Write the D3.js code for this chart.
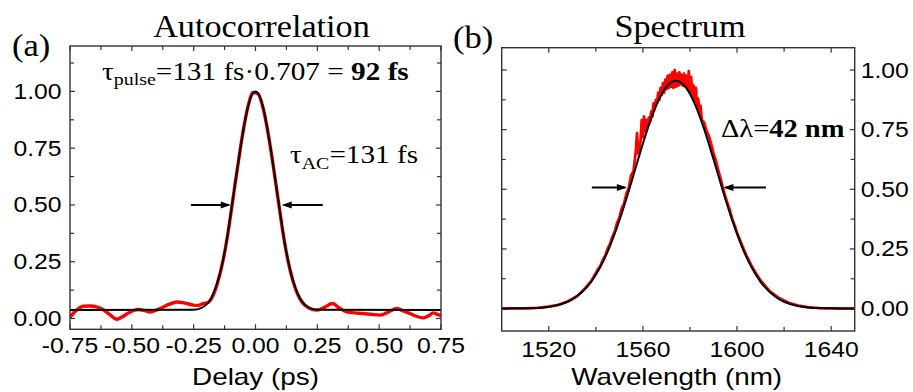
<!DOCTYPE html>
<html>
<head>
<meta charset="utf-8">
<script src="https://cdn.jsdelivr.net/npm/d3@7"></script>
<style>
html,body{margin:0;padding:0;background:#fff;}
svg{display:block;}
</style>
</head>
<body>
<svg id="chart" width="913" height="392"></svg>
<script>
// ---------- DATA ----------
const acDelay = [-0.75,-0.743,-0.72,-0.696,-0.67,-0.642,-0.617,-0.59,-0.561,-0.535,-0.507,-0.474,-0.45,-0.427,-0.386,-0.35,-0.319,-0.285,-0.251,-0.23,-0.211,
  -0.19,-0.17,-0.15,-0.13,-0.11,-0.09,-0.07,-0.05,-0.03,-0.01,
  0.01,0.03,0.05,0.07,0.09,0.11,0.13,0.15,0.17,0.19,0.21,0.23,0.25,
  0.28,0.311,0.34,0.369,0.40,0.436,0.47,0.504,0.54,0.571,0.60,0.625,0.65,0.679,0.70,0.719,0.735,0.75];
const acSignal = [0.005,0.015,0.040,0.054,0.055,0.051,0.040,0.018,-0.003,0.010,0.029,0.040,0.036,0.029,0.044,0.062,0.073,0.068,0.059,0.058,0.066,
  0.072,0.105,0.170,0.262,0.385,0.535,0.685,0.825,0.935,0.995,
  0.990,0.930,0.822,0.685,0.535,0.385,0.262,0.170,0.108,0.070,0.050,0.040,0.037,
  0.050,0.066,0.045,0.029,0.025,0.022,0.018,0.015,0.030,0.044,0.032,0.022,0.010,0.003,0.012,0.025,0.018,0.012];
const acFitDelay = [-0.75,-0.25,-0.22,-0.20,-0.18,-0.16,-0.14,-0.12,-0.10,-0.08,-0.06,-0.04,-0.02,0,0.02,0.04,0.06,0.08,0.10,0.12,0.14,0.16,0.18,0.20,0.22,0.25,0.75];
const acFit = [0.038,0.039,0.046,0.060,0.088,0.140,0.215,0.320,0.462,0.612,0.757,0.884,0.970,1.000,0.970,0.884,0.757,0.612,0.462,0.320,0.215,0.140,0.088,0.060,0.046,0.039,0.038];

const specWl = [1500,1505,1510,1515,1520,1524,1528,1532,1535,1538,
  1540,1541,1542,1543,1544,1545,1546,1547,1548,1549,1550,1551,1552,1553,1554,1555,1556,1557,1557.5,1558,1559,1559.5,1560,1560.5,1561,1561.5,
  1562,1562.5,1563,1563.5,1564,1564.5,1565,1565.5,1566,1566.5,1567,1567.5,1568,1568.5,1569,1569.5,1570,1570.5,1571,1571.5,
  1572,1572.5,1573,1573.5,1574,1574.5,1575,1575.5,1576,1576.5,1577,1577.5,1578,1578.5,1579,1579.5,1580,1580.5,1581,1581.5,
  1582,1582.5,1583,1583.5,1584,1584.5,1585,
  1586,1587,1588,1589,1590,1591,1592,1593,1594,1595,1596,1597,1598,1599,1600,
  1602,1604,1606,1608,1610,1614,1618,1622,1626,1630,1635,1640,1650];
const specSignal = [0.000,0.001,0.001,0.003,0.008,0.015,0.030,0.052,0.080,0.115,
  0.148,0.166,0.180,0.205,0.222,0.250,0.270,0.300,0.322,0.358,0.380,0.420,0.440,0.482,0.505,0.560,0.575,0.660,0.735,0.650,0.700,0.790,0.720,0.805,0.745,0.790,
  0.770,0.800,0.780,0.825,0.805,0.860,0.835,0.875,0.860,0.905,0.875,0.925,0.895,0.945,0.905,0.960,0.920,0.975,0.925,0.980,
  0.930,0.990,0.925,1.000,0.930,0.985,0.935,0.990,0.940,0.980,0.935,0.985,0.930,0.975,0.920,0.995,0.905,0.970,0.890,0.935,
  0.870,0.925,0.845,0.880,0.825,0.850,0.790,
  0.780,0.745,0.725,0.690,0.650,0.620,0.580,0.545,0.505,0.470,0.440,0.410,0.375,0.348,0.318,
  0.268,0.222,0.182,0.148,0.118,0.072,0.043,0.024,0.012,0.006,0.002,0.001,0.000];
const specFitWl = [1500,1506,1510,1514,1518,1522,1526,1530,1534,1538,1542,1546,1550,1554,1558,1562,1566,1570,1574,1578,1582,1586,1590,1594,1598,1602,1606,1610,1614,1618,1622,1626,1630,1634,1640,1650];
const specFit = [0,0.001,0.001,0.002,0.005,0.011,0.021,0.039,0.068,0.112,0.176,0.262,0.369,0.493,0.626,0.753,0.859,0.930,0.955,0.930,0.859,0.753,0.626,0.493,0.369,0.262,0.176,0.112,0.068,0.039,0.021,0.011,0.005,0.002,0.001,0];

const acXTicks = [-0.75,-0.5,-0.25,0,0.25,0.5,0.75];
const acXLabels = ["-0.75","-0.50","-0.25","0.00","0.25","0.50","0.75"];
const acXMinor = [-0.625,-0.375,-0.125,0.125,0.375,0.625];
const acYTicks = [0,0.25,0.5,0.75,1.0];
const acYLabels = ["0.00","0.25","0.50","0.75","1.00"];
const acYMinor = [0.125,0.375,0.625,0.875,1.125];

const specXTicks = [1520,1560,1600,1640];
const specXLabels = ["1520","1560","1600","1640"];
const specXMinor = [1540,1580,1620];
const specYTicks = [0,0.25,0.5,0.75,1.0];
const specYLabels = ["0.00","0.25","0.50","0.75","1.00"];
const specYMinor = [0.125,0.375,0.625,0.875];

const acArrows = [[-0.261,-0.100],[0.272,0.106]];   // delay from -> to, at half max
const specArrows = [[1538.3,1553.2],[1612.3,1594.2]];

// ---------- DRAW ----------
const svg = d3.select("#chart");
svg.append("rect").attr("width",913).attr("height",392).attr("fill","#fff");
const SANS = "'Liberation Sans', Arial, sans-serif";
const SERIF = "'Liberation Serif', 'Times New Roman', serif";

function txt(x,y,s,opt){
  const t = svg.append("text")
    .attr("transform",`translate(${x},${y}) scale(${opt.sx||1},1)`)
    .attr("font-family",opt.family||SANS)
    .attr("font-size",opt.size)
    .attr("text-anchor",opt.anchor||"start")
    .attr("fill","#000");
  if (s!==null) t.text(s);
  return t;
}

function panel(cfg){
  const {x, y, xTicks, xLabels, xMinor, yTicks, yLabels, yMinor, labelsRight, xLabelY} = cfg;
  const [x0,x1] = x.range(); const [y0,y1] = y.range();
  const g = svg.append("g");
  const id = "clip"+Math.round(x0);
  svg.append("clipPath").attr("id",id).append("rect")
    .attr("x",x0).attr("y",y1).attr("width",x1-x0).attr("height",y0-y1);
  const tickC = "#333";
  const L = 5, Lm = 4;
  xTicks.concat(xMinor).forEach((v,i)=>{
    const len = i < xTicks.length ? L : Lm;
    const px = x(v);
    g.append("line").attr("x1",px).attr("x2",px).attr("y1",y0).attr("y2",y0-len).attr("stroke",tickC).attr("stroke-width",1.2);
    g.append("line").attr("x1",px).attr("x2",px).attr("y1",y1).attr("y2",y1+len).attr("stroke",tickC).attr("stroke-width",1.2);
  });
  yTicks.concat(yMinor).forEach((v,i)=>{
    const len = i < yTicks.length ? L : Lm;
    const py = y(v);
    g.append("line").attr("x1",x0).attr("x2",x0+len).attr("y1",py).attr("y2",py).attr("stroke",tickC).attr("stroke-width",1.2);
    g.append("line").attr("x1",x1).attr("x2",x1-len).attr("y1",py).attr("y2",py).attr("stroke",tickC).attr("stroke-width",1.2);
  });
  xTicks.forEach((v,i)=>{
    txt(x(v), xLabelY, xLabels[i], {size:21.5, sx:1.15, anchor:"middle"});
  });
  yTicks.forEach((v,i)=>{
    if (labelsRight) txt(x1+6, y(v)+7.5, yLabels[i], {size:21.5, sx:1.15, anchor:"start"});
    else txt(x0-8.5, y(v)+7.5, yLabels[i], {size:21.5, sx:1.15, anchor:"end"});
  });
  return {g, clip:id};
}

function drawLine(p, xs, ys, x, y, color, w){
  const pts = xs.map((v,i)=>[v,ys[i]]);
  const line = d3.line().x(d=>x(d[0])).y(d=>y(d[1])).curve(d3.curveMonotoneX);
  svg.append("path").attr("d",line(pts)).attr("fill","none").attr("stroke",color)
    .attr("stroke-width",w).attr("stroke-linejoin","round").attr("clip-path",`url(#${p.clip})`);
}

function arrow(xFrom, xTo, yv){
  const dir = Math.sign(xTo-xFrom);
  svg.append("line").attr("x1",xFrom).attr("x2",xTo-dir*2).attr("y1",yv).attr("y2",yv)
    .attr("stroke","#000").attr("stroke-width",2);
  svg.append("path").attr("d",`M${xTo},${yv} L${xTo-dir*10},${yv-3.5} L${xTo-dir*10},${yv+3.5} Z`).attr("fill","#000");
}

// Panel (a)
const xa = d3.scaleLinear().domain([-0.75,0.75]).range([70,441]);
const ya = d3.scaleLinear().domain([-0.0475,1.2]).range([329.3,46]);
const pa = panel({x:xa, y:ya, xTicks:acXTicks, xLabels:acXLabels, xMinor:acXMinor,
  yTicks:acYTicks, yLabels:acYLabels, yMinor:acYMinor, labelsRight:false, xLabelY:353});
drawLine(pa, acDelay, acSignal, xa, ya, "#ff0000", 3.4);
drawLine(pa, acFitDelay, acFit, xa, ya, "#000", 2);
svg.append("rect").attr("x",70).attr("y",46).attr("width",371).attr("height",283.3)
  .attr("fill","none").attr("stroke","#333").attr("stroke-width",1.4);
acArrows.forEach(a=>arrow(xa(a[0]), xa(a[1]), ya(0.5)));

// Panel (b)
const xb = d3.scaleLinear().domain([1500,1650]).range([501.7,854.7]);
const yb = d3.scaleLinear().domain([-0.094,1.0935]).range([331,47.7]);
const pb = panel({x:xb, y:yb, xTicks:specXTicks, xLabels:specXLabels, xMinor:specXMinor,
  yTicks:specYTicks, yLabels:specYLabels, yMinor:specYMinor, labelsRight:true, xLabelY:357});
const redLine = d3.line().x((d)=>xb(d[0])).y(d=>yb(d[1]));
svg.append("path").attr("d",redLine(specWl.map((v,i)=>[v,specSignal[i]]))).attr("fill","none")
  .attr("stroke","#ff0000").attr("stroke-width",2.8).attr("stroke-linejoin","round").attr("clip-path",`url(#${pb.clip})`);
drawLine(pb, specFitWl, specFit, xb, yb, "#000", 2);
svg.append("rect").attr("x",501.7).attr("y",47.7).attr("width",353).attr("height",283.3)
  .attr("fill","none").attr("stroke","#333").attr("stroke-width",1.4);
specArrows.forEach(a=>arrow(xb(a[0]), xb(a[1]), yb(0.507)));

// Titles and labels
txt(261.5, 36.7, "Autocorrelation", {family:SERIF, size:32, sx:1.07, anchor:"middle"});
txt(680, 36.7, "Spectrum", {family:SERIF, size:32, sx:1.07, anchor:"middle"});
txt(12, 56, "(a)", {family:SERIF, size:32, sx:1.08});
txt(453, 48, "(b)", {family:SERIF, size:32, sx:1.08});
txt(255.5, 385, "Delay (ps)", {size:24, sx:1.16, anchor:"middle"});
txt(676.7, 385, "Wavelength (nm)", {size:24, sx:1.16, anchor:"middle"});

// Annotations
const t1 = txt(102, 80, null, {family:SERIF, size:25, sx:1.17});
t1.append("tspan").text("τ");
t1.append("tspan").attr("font-size",17).attr("dy",5).text("pulse");
t1.append("tspan").attr("dy",-5).text("=131 fs·0.707 = ");
t1.append("tspan").attr("font-weight","bold").text("92 fs");

const t2 = txt(290, 163, null, {family:SERIF, size:25, sx:1.17});
t2.append("tspan").text("τ");
t2.append("tspan").attr("font-size",17).attr("dy",6).text("AC");
t2.append("tspan").attr("dy",-6).text("=131 fs");

const t3 = txt(721, 137, null, {family:SERIF, size:25, sx:1.14});
t3.append("tspan").text("Δλ=");
t3.append("tspan").attr("font-weight","bold").text("42 nm");
</script>
</body>
</html>
